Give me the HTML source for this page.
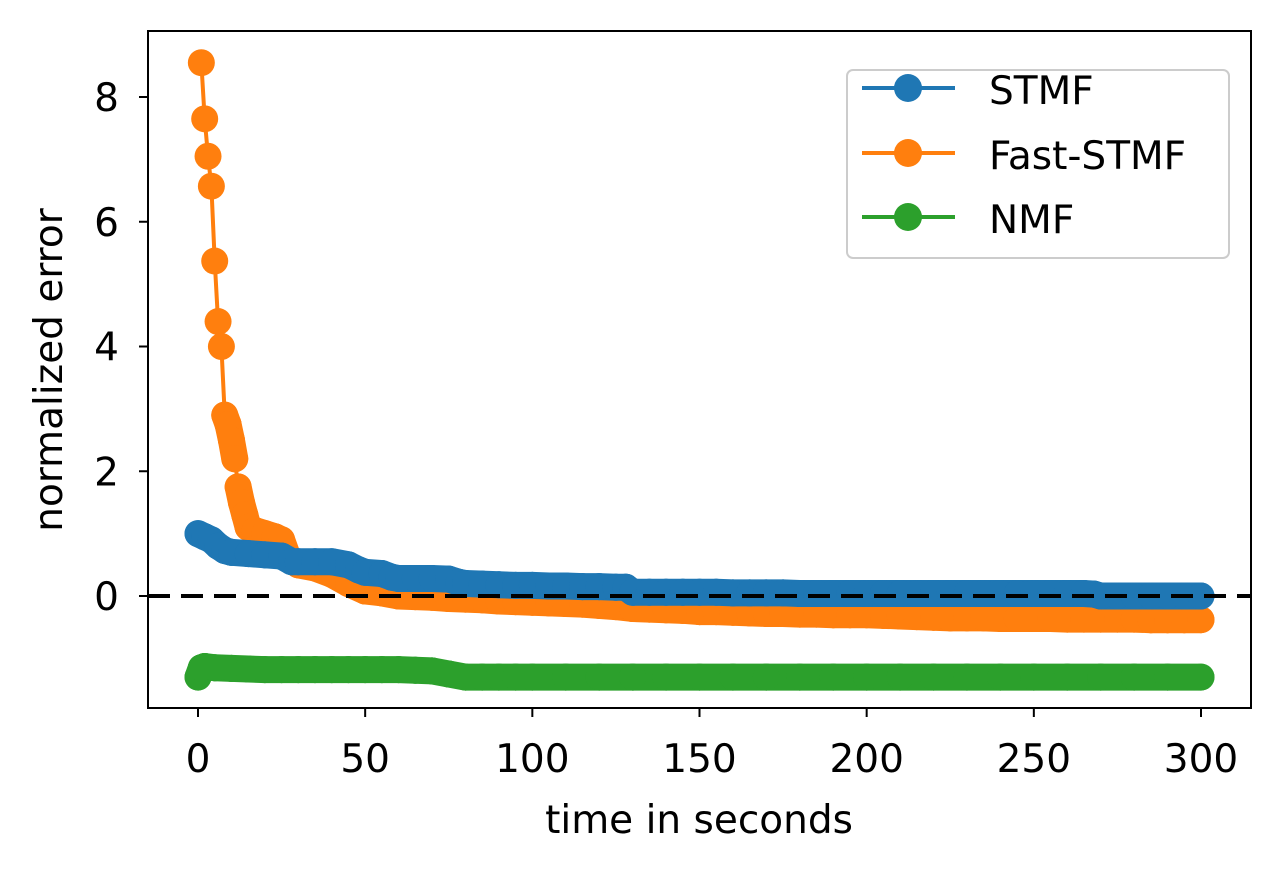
<!DOCTYPE html>
<html><head><meta charset="utf-8"><style>
html,body{margin:0;padding:0;background:#fff;}
svg{display:block;font-family:"DejaVu Sans","Liberation Sans",sans-serif;}
</style></head><body>
<svg id="chart" width="1281" height="871" viewBox="0 0 1281 871" xmlns="http://www.w3.org/2000/svg">
<defs><clipPath id="clip"><rect x="148" y="31" width="1103" height="677"/></clipPath></defs>
<rect x="0" y="0" width="1281" height="871" fill="#fff"/>
<g id="series" clip-path="url(#clip)"></g>
<rect x="148" y="31" width="1103" height="677" fill="none" stroke="#000" stroke-width="2"/>
<g id="axes"></g>
<text x="699" y="833" font-size="39" text-anchor="middle">time in seconds</text>
<text transform="translate(62,370) rotate(-90)" font-size="39" text-anchor="middle">normalized error</text>
<g>
<rect x="847" y="70" width="382" height="188" rx="6" fill="#fff" stroke="#ccc" stroke-width="2"/>
<g><line x1="862" y1="88" x2="955" y2="88" stroke="#1f77b4" stroke-width="4"/><circle cx="908" cy="88" r="14" fill="#1f77b4"/><text x="989" y="104" font-size="39">STMF</text></g>
<g><line x1="862" y1="153" x2="955" y2="153" stroke="#ff7f0e" stroke-width="4"/><circle cx="908" cy="153" r="14" fill="#ff7f0e"/><text x="989" y="169" font-size="39">Fast-STMF</text></g>
<g><line x1="862" y1="217" x2="955" y2="217" stroke="#2ca02c" stroke-width="4"/><circle cx="908" cy="217" r="14" fill="#2ca02c"/><text x="989" y="233" font-size="39">NMF</text></g>
</g>
</svg>
<script>
const xTicks = [0,50,100,150,200,250,300];
const yTicks = [0,2,4,6,8];
const stmfT = [0,2,4,6,8,10,15,20,25,28,30,35,40,45,48,50,55,58,60,65,70,75,78,80,85,90,95,100,105,110,115,120,125,128,130,135,140,145,150,155,160,165,170,175,180,185,190,195,200,205,210,215,220,225,230,235,240,245,250,255,260,265,268,270,275,280,285,290,295,300];
const stmfV = [1.0,0.95,0.9,0.8,0.73,0.7,0.68,0.66,0.64,0.55,0.55,0.55,0.55,0.5,0.42,0.38,0.36,0.3,0.28,0.28,0.28,0.27,0.22,0.2,0.19,0.18,0.17,0.17,0.16,0.16,0.15,0.15,0.14,0.14,0.06,0.06,0.06,0.06,0.06,0.06,0.05,0.05,0.05,0.05,0.04,0.04,0.04,0.04,0.04,0.04,0.04,0.04,0.04,0.04,0.04,0.04,0.04,0.04,0.04,0.04,0.04,0.04,0.03,0.0,0.0,0.0,0.0,0.0,0.0,0.0];
const fastT = [1,2,3,4,5,6,7,8,9,10,11,12,13,14,15,17,20,23,25,27,30,35,40,45,50,55,60,65,70,75,80,85,90,95,100,105,110,115,120,125,130,135,140,145,150,155,160,165,170,175,180,185,190,195,200,205,210,215,220,225,230,235,240,245,250,255,260,265,270,275,280,285,290,295,300];
const fastV = [8.55,7.65,7.05,6.57,5.37,4.4,4.0,2.9,2.75,2.5,2.2,1.75,1.5,1.3,1.1,1.05,1.0,0.95,0.9,0.6,0.5,0.45,0.35,0.2,0.08,0.05,0.0,-0.01,-0.02,-0.04,-0.05,-0.06,-0.08,-0.09,-0.1,-0.11,-0.12,-0.13,-0.15,-0.17,-0.2,-0.21,-0.22,-0.23,-0.25,-0.25,-0.26,-0.27,-0.28,-0.28,-0.29,-0.29,-0.3,-0.3,-0.3,-0.31,-0.32,-0.33,-0.34,-0.35,-0.35,-0.35,-0.36,-0.36,-0.36,-0.36,-0.37,-0.37,-0.37,-0.37,-0.37,-0.38,-0.38,-0.38,-0.38];
const nmfT = [0,1,2,5,10,15,20,25,30,35,40,45,50,55,60,65,70,75,80,85,90,95,100,110,120,130,140,150,160,170,180,190,200,210,220,230,240,250,260,270,280,290,300];
const nmfV = [-1.3,-1.15,-1.13,-1.15,-1.16,-1.17,-1.18,-1.18,-1.18,-1.18,-1.18,-1.18,-1.18,-1.18,-1.18,-1.19,-1.2,-1.25,-1.3,-1.3,-1.3,-1.3,-1.3,-1.3,-1.3,-1.3,-1.3,-1.3,-1.3,-1.3,-1.3,-1.3,-1.3,-1.3,-1.3,-1.3,-1.3,-1.3,-1.3,-1.3,-1.3,-1.3,-1.3];
const NS='http://www.w3.org/2000/svg';
function xs(t){return 198+t*(1201-198)/300;}
function ys(v){return 596-v*(596-97)/8;}
const axes=document.getElementById('axes');
const series=document.getElementById('series');
function mk(tag,attrs,parent){const e=document.createElementNS(NS,tag);for(const k in attrs)e.setAttribute(k,attrs[k]);parent.appendChild(e);return e;}
xTicks.forEach(t=>{
  const l=mk('line',{x1:xs(t),x2:xs(t),y1:708,y2:717,stroke:'#000','stroke-width':2},axes);
  
  
  const tx=mk('text',{x:xs(t),y:772,'font-size':39,'text-anchor':'middle'},axes);
  tx.textContent=t;
  
  
});
yTicks.forEach(v=>{
  const l=mk('line',{x1:139,x2:148,y1:ys(v),y2:ys(v),stroke:'#000','stroke-width':2},axes);
  
  
  const tx=mk('text',{x:119,y:ys(v)+14,'font-size':39,'text-anchor':'end'},axes);
  tx.textContent=v;
  
  
});
function draw(T,V,color,name){
  const g=mk('g',{},series);
  
  
  const p=mk('polyline',{points:T.map((t,i)=>xs(t)+','+ys(V[i])).join(' '),fill:'none',stroke:color,'stroke-width':4},g);
  
  
  for(let i=1;i<T.length;i++){
    const x1=xs(T[i-1]),y1=ys(V[i-1]),x2=xs(T[i]),y2=ys(V[i]);
    if(Math.abs(x2-x1)<45 && Math.abs(y2-y1)<20){
      const b=mk('line',{x1:x1,y1:y1,x2:x2,y2:y2,stroke:color,'stroke-width':27,'stroke-linecap':'round'},g);
      
      
    }
  }
  T.forEach((t,i)=>{
    const c=mk('circle',{cx:xs(t),cy:ys(V[i]),r:13.5,fill:color},g);
    
    
  });
}
draw(nmfT,nmfV,'#2ca02c','nmf');
draw(fastT,fastV,'#ff7f0e','fast-stmf');
draw(stmfT,stmfV,'#1f77b4','stmf');
const z=mk('line',{x1:148,x2:1251,y1:ys(0),y2:ys(0),stroke:'#000','stroke-width':4,'stroke-dasharray':'22 11'},series);


</script>
</body></html>
